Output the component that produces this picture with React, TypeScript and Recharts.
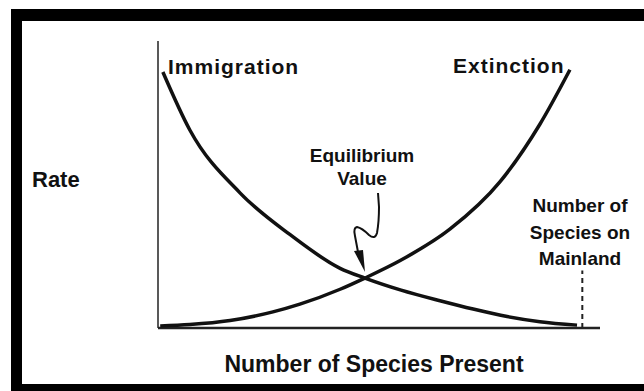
import React from 'react';
import { LineChart, Line, XAxis, YAxis, ReferenceLine } from 'recharts';

// number of species present (0-100) vs rate (0-100)
const immigration = [
  { species: 1.1, rate: 89.2 },
  { species: 7.2, rate: 69.0 },
  { species: 18.6, rate: 47.0 },
  { species: 29.9, rate: 32.5 },
  { species: 41.2, rate: 20.8 },
  { species: 46.8, rate: 17.4 },
  { species: 55.0, rate: 13.2 },
  { species: 63.8, rate: 9.5 },
  { species: 71.3, rate: 6.6 },
  { species: 79.0, rate: 4.0 },
  { species: 86.4, rate: 2.2 },
  { species: 94.8, rate: 1.0 },
];

const extinction = [
  { species: 0.5, rate: 0.7 },
  { species: 7.2, rate: 1.2 },
  { species: 16.3, rate: 2.6 },
  { species: 26.0, rate: 5.6 },
  { species: 32.1, rate: 8.3 },
  { species: 41.2, rate: 13.5 },
  { species: 46.8, rate: 17.4 },
  { species: 54.8, rate: 23.5 },
  { species: 66.1, rate: 34.5 },
  { species: 77.4, rate: 51.0 },
  { species: 86.4, rate: 71.0 },
  { species: 93.2, rate: 90.0 },
];

const mainlandSpecies = 96;
const mainlandMarkTop = 20;

const mainlandLabel = ['Number of', 'Species on', 'Mainland'];
const equilibriumLabel = ['Equilibrium', 'Value'];

const font = '"Liberation Sans", Arial, sans-serif';
const ink = '#111';

export default function App() {
  return (
    <div style={{ position: 'absolute', left: 0, top: 0, width: 644, height: 391, background: '#fff' }}>
      <LineChart
        width={644}
        height={391}
        margin={{ top: 41, right: 44, bottom: 63, left: 158 }}
      >
        <XAxis type="number" dataKey="species" domain={[0, 100]} hide allowDuplicatedCategory={false} />
        <YAxis type="number" dataKey="rate" domain={[0, 100]} hide />
        {/* axes */}
        <ReferenceLine
          segment={[{ x: 0, y: 0 }, { x: 100, y: 0 }]}
          stroke="#222"
          strokeWidth={2.5}
        />
        <ReferenceLine
          segment={[{ x: 0, y: 0 }, { x: 0, y: 100 }]}
          stroke="#222"
          strokeWidth={1.5}
        />
        <ReferenceLine
          segment={[{ x: mainlandSpecies, y: 0 }, { x: mainlandSpecies, y: mainlandMarkTop }]}
          stroke="#222"
          strokeWidth={2}
          strokeDasharray="5 4"
        />
        <Line
          data={immigration}
          dataKey="rate"
          type="monotone"
          stroke={ink}
          strokeWidth={3.5}
          dot={false}
          isAnimationActive={false}
        />
        <Line
          data={extinction}
          dataKey="rate"
          type="monotone"
          stroke={ink}
          strokeWidth={3.5}
          dot={false}
          isAnimationActive={false}
        />
      </LineChart>

      <svg
        width={644}
        height={391}
        style={{ position: 'absolute', left: 0, top: 0, pointerEvents: 'none' }}
      >
        {/* frame */}
        <rect x={11} y={9} width={633} height={12} fill="#000" />
        <rect x={11} y={9} width={11} height={382} fill="#000" />
        <rect x={11} y={384} width={633} height={7} fill="#000" />

        <g fontFamily={font} fontWeight="bold" fill={ink}>
          <text x={168} y={74} fontSize={21} letterSpacing={1}>Immigration</text>
          <text x={453} y={73} fontSize={21} letterSpacing={1}>Extinction</text>
          <text x={32} y={187} fontSize={22}>Rate</text>
          <text x={374} y={372} fontSize={23} textAnchor="middle">Number of Species Present</text>
          {equilibriumLabel.map((t, i) => (
            <text key={t} x={362} y={162 + i * 23} fontSize={19} textAnchor="middle">{t}</text>
          ))}
          {mainlandLabel.map((t, i) => (
            <text key={t} x={580} y={212 + i * 26.5} fontSize={19} textAnchor="middle">{t}</text>
          ))}
        </g>

        {/* squiggly arrow to the equilibrium point */}
        <path
          d="M378 193 L379 207 Q379 222 377 233 Q375 240 369 235 Q362 228 357 227 Q353 228 355 236 L358 252"
          fill="none"
          stroke={ink}
          strokeWidth={2}
        />
        <path d="M354 251 L363 250 L365 272 Z" fill={ink} />
      </svg>
    </div>
  );
}
